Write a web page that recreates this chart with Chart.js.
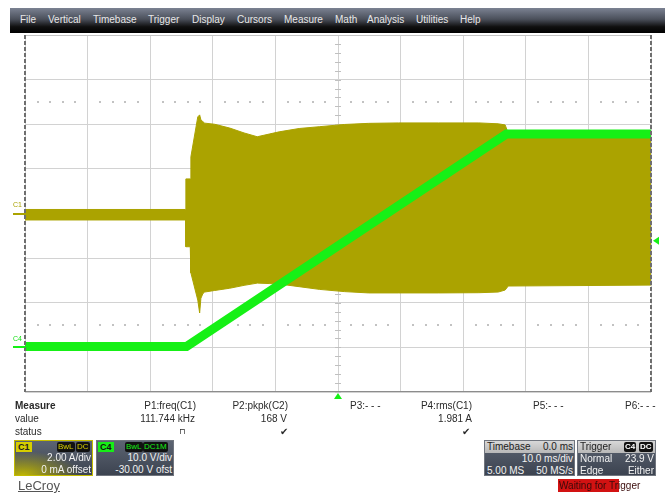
<!DOCTYPE html>
<html>
<head>
<meta charset="utf-8">
<title>LeCroy capture</title>
<script src="https://cdn.jsdelivr.net/npm/chart.js@4/dist/chart.umd.min.js"></script>
<style>
  html, body { margin: 0; padding: 0; background: #fff; }
  body { width: 665px; height: 494px; position: relative; overflow: hidden;
         font-family: "Liberation Sans", Arial, sans-serif; }
  #wrap { position: absolute; left: 0; top: 0; width: 665px; height: 494px; }
  .t { position: absolute; font-size: 10px; line-height: 12px; color: #2a2a2a; white-space: nowrap; }
  .menu { position: absolute; left: 10px; top: 8px; width: 655px; height: 25px;
          background: linear-gradient(#7b8292 0%, #4a4f5a 45%, #101010 75%, #000 100%); }
  .menu span { position: absolute; top: 6px; font-size: 10px; line-height: 12px; color: #e8e8e8; }
  .box { position: absolute; top: 440px; height: 36px; box-sizing: border-box; overflow: hidden;
         background: linear-gradient(#5c6472, #3c4350); border: 1px solid #70757e; }
  .box .w { position: absolute; right: 1px; font-size: 10px; line-height: 12px; color: #f2f2f2; white-space: nowrap; }
  .box .l { position: absolute; left: 2px; font-size: 10px; line-height: 12px; color: #f2f2f2; white-space: nowrap; }
  .tag { position: absolute; top: 1px; height: 10px; font-size: 9px; line-height: 10px; padding: 0 2px; font-weight: bold; }
  .badge { position: absolute; top: 1px; height: 10px; font-size: 8px; line-height: 10px; padding: 0 1px; background: #111; border-radius: 2px; }
  .head { position: absolute; left: 0; top: 0; right: 0; height: 12px; background: linear-gradient(#d8d8d8, #b8b8b8); }
  .head span { position: absolute; top: 0; font-size: 10px; line-height: 12px; color: #222; }
</style>
</head>
<body>
<div id="wrap"><canvas id="scope" width="665" height="494"></canvas></div>

<div class="menu">
  <span style="left:10px">File</span>
  <span style="left:38px">Vertical</span>
  <span style="left:83px">Timebase</span>
  <span style="left:138px">Trigger</span>
  <span style="left:182px">Display</span>
  <span style="left:227px">Cursors</span>
  <span style="left:274px">Measure</span>
  <span style="left:325px">Math</span>
  <span style="left:357px">Analysis</span>
  <span style="left:406px">Utilities</span>
  <span style="left:450px">Help</span>
</div>

<!-- channel ground labels beside the graticule -->
<div class="t" style="left:13px;top:201px;font-size:7px;line-height:8px;color:#aaa200">C1</div>
<div class="t" style="left:13px;top:335px;font-size:7px;line-height:8px;color:#14e014">C4</div>

<!-- measurement table -->
<div class="t" style="left:15px;top:400px;font-weight:bold">Measure</div>
<div class="t" style="left:15px;top:413px">value</div>
<div class="t" style="left:15px;top:426px">status</div>

<div class="t" style="right:469px;top:400px">P1:freq(C1)</div>
<div class="t" style="right:470px;top:413px">111.744 kHz</div>
<div class="t" style="left:179px;top:426px;font-family:'DejaVu Sans';font-size:8px">&#x2293;</div>

<div class="t" style="right:377px;top:400px">P2:pkpk(C2)</div>
<div class="t" style="right:378px;top:413px">168 V</div>
<div class="t" style="left:280px;top:426px;font-family:'DejaVu Sans';font-size:10px">&#x2714;</div>

<div class="t" style="left:350px;top:400px">P3:- - -</div>

<div class="t" style="right:193px;top:400px">P4:rms(C1)</div>
<div class="t" style="right:193px;top:413px">1.981 A</div>
<div class="t" style="left:462px;top:426px;font-family:'DejaVu Sans';font-size:10px">&#x2714;</div>

<div class="t" style="left:533px;top:400px">P5:- - -</div>
<div class="t" style="left:625px;top:400px">P6:- - -</div>

<!-- channel descriptor boxes -->
<div class="box" style="left:14px;width:79px;border-color:#c4bc00;
     background: radial-gradient(ellipse 75% 70% at 10% 100%, rgba(196,186,0,0.95), rgba(196,186,0,0) 100%), linear-gradient(#5c6472, #3c4350);">
  <div class="tag" style="left:1px;background:#d6ce00;color:#222">C1</div>
  <div class="badge" style="left:42px;color:#d6ce00">BwL</div>
  <div class="badge" style="left:61px;color:#d6ce00">DC</div>
  <div class="w" style="top:11px">2.00 A/div</div>
  <div class="w" style="top:23px">0 mA offset</div>
</div>
<div class="box" style="left:96px;width:78px;">
  <div class="tag" style="left:1px;background:#16ee16;color:#111">C4</div>
  <div class="badge" style="left:28px;color:#16ee16">BwL</div>
  <div class="badge" style="left:46px;color:#16ee16">DC1M</div>
  <div class="w" style="top:11px">10.0 V/div</div>
  <div class="w" style="top:23px">-30.00 V ofst</div>
</div>

<div class="box" style="left:484px;width:91px;">
  <div class="head"><span style="left:2px">Timebase</span><span style="right:1px" id="tbDelay">0.0 ms</span></div>
  <div class="w" style="top:12px">10.0 ms/div</div>
  <div class="l" style="top:24px">5.00 MS</div>
  <div class="w" style="top:24px">50 MS/s</div>
</div>
<div class="box" style="left:577px;width:79px;">
  <div class="head"><span style="left:2px">Trigger</span></div>
  <div class="badge" style="left:46px;color:#fff;font-weight:bold">C4</div>
  <div class="badge" style="left:61px;color:#fff;font-weight:bold">DC</div>
  <div class="l" style="top:12px">Normal</div>
  <div class="w" style="top:12px" id="trigText"></div>
  <div class="l" style="top:24px">Edge</div>
  <div class="w" style="top:24px">Either</div>
</div>

<div style="position:absolute;left:558px;top:479px;width:61px;height:13px;background:#d21212"></div>
<div class="t" style="left:559px;top:480px;color:#3a0a0a">Waiting for Trigger</div>

<div class="t" style="left:18px;top:478px;font-size:13px;line-height:15px;color:#555;text-decoration:underline">LeCroy</div>

<script>
// Acquisition: 10 ms/div, 10 divisions, trigger at centre.
// C1 current (A): envelope of the ~112 kHz switching waveform.
const envTimeMs = [-50, -24.35, -24.3, -23.6, -23.5, -22.4, -22.1, -21.9, -21.6, -21.3,
                   -19.7, -17.3, -15.0, -12.9, -11.0, -9.4, -6.2, -3.0, 1.0, 4.9,
                   9.7, 16.1, 22.5, 25.6, 26.7, 27.2, 50];
const c1MaxAmps  = [0.18, 0.18, 1.55, 1.55, 2.54, 4.33, 4.42, 4.20, 4.12, 4.05,
                    4.00, 3.83, 3.61, 3.44, 3.56, 3.66, 3.81, 3.89, 3.99, 4.04,
                    4.06, 4.06, 4.06, 4.02, 3.97, 3.60, 3.56];
const c1MinAmps  = [-0.29, -0.29, -1.49, -1.49, -2.66, -3.88, -4.46, -3.80, -3.60, -3.52,
                    -3.45, -3.35, -3.22, -3.12, -3.14, -3.16, -3.28, -3.40, -3.50, -3.56,
                    -3.56, -3.56, -3.55, -3.52, -3.43, -3.25, -3.21];

// C4 voltage (V): linear ramp from 0 V up to ~48 V.
const c4TimeMs = [-50, -24.2, 26.9, 50];
const c4Volts  = [0.2, 0.2, 47.8, 47.8];

// Channel settings
const c1AmpsPerDiv = 2.00, c1Offset = 0;
const c4VoltsPerDiv = 10.0, c4Offset = -30.0;
const msPerDiv = 10.0;
const triggerLevel = 23.9;   // volts, on C4
const triggerDelay = 0.0;    // ms

document.getElementById('trigText').textContent = triggerLevel.toFixed(1) + ' V';

const C1_COLOR = '#aba300';
const C4_COLOR = '#16f016';

const toPoints = (xs, ys) => xs.map((x, i) => ({ x, y: ys[i] }));

// Graticule details, channel ground markers and trigger markers.
const scopeGraticule = {
  id: 'scopeGraticule',
  beforeDatasetsDraw(chart) {
    const { ctx, chartArea: a, scales } = chart;
    const xs = scales.x, ys = scales.y;
    ctx.save();
    // dotted guide lines at +/-2.5 div
    ctx.fillStyle = '#c2c2c2';
    for (const d of [2.5, -2.5]) {
      const py = Math.round(ys.getPixelForValue(d));
      for (let v = -50 + msPerDiv / 5; v < 50; v += msPerDiv / 5) {
        if (Math.abs(v % msPerDiv) < 1e-6 || Math.abs(Math.abs(v % msPerDiv) - msPerDiv) < 1e-6) continue;
        const px = Math.round(xs.getPixelForValue(v));
        ctx.fillRect(px - 1, py - 1, 2, 2);
      }
    }
    // minor ticks on centre cross
    ctx.strokeStyle = '#c0c0c0';
    ctx.lineWidth = 1;
    const cx = xs.getPixelForValue(triggerDelay), cy = ys.getPixelForValue(0);
    ctx.beginPath();
    for (let d = -4; d <= 4.001; d += 0.2) {
      const py = Math.round(ys.getPixelForValue(d)) + 0.5;
      ctx.moveTo(cx - 3, py); ctx.lineTo(cx + 3, py);
    }
    for (let v = -50; v <= 50.001; v += msPerDiv / 5) {
      const px = Math.round(xs.getPixelForValue(v)) + 0.5;
      ctx.moveTo(px, cy - 3); ctx.lineTo(px, cy + 3);
    }
    ctx.stroke();
    ctx.restore();
  },
  afterDatasetsDraw(chart) {
    const { ctx, chartArea: a, scales } = chart;
    ctx.save();
    // frame
    ctx.lineWidth = 1;
    ctx.strokeStyle = '#c4c4c4';
    ctx.beginPath(); ctx.moveTo(a.left, a.top + 0.5); ctx.lineTo(a.right, a.top + 0.5); ctx.stroke();
    ctx.strokeStyle = '#8c8c8c';
    ctx.beginPath(); ctx.moveTo(a.left, a.bottom - 0.5); ctx.lineTo(a.right, a.bottom - 0.5); ctx.stroke();
    ctx.strokeStyle = '#6e6e6e';
    ctx.lineWidth = 2;
    ctx.setLineDash([4, 2]);
    ctx.beginPath();
    ctx.moveTo(a.left, a.top); ctx.lineTo(a.left, a.bottom);
    ctx.moveTo(a.right, a.top); ctx.lineTo(a.right, a.bottom);
    ctx.stroke();
    ctx.setLineDash([]);

    // channel ground markers
    const g1 = Math.round(scales.yA.getPixelForValue(0));
    const g4 = Math.round(scales.yV.getPixelForValue(0));
    ctx.lineWidth = 2;
    ctx.strokeStyle = C1_COLOR;
    ctx.beginPath(); ctx.moveTo(a.left - 12, g1); ctx.lineTo(a.left, g1); ctx.stroke();
    ctx.strokeStyle = C4_COLOR;
    ctx.beginPath(); ctx.moveTo(a.left - 12, g4); ctx.lineTo(a.left, g4); ctx.stroke();

    // trigger position (bottom) and level (right) markers
    ctx.fillStyle = C4_COLOR;
    const tx = scales.x.getPixelForValue(triggerDelay);
    ctx.beginPath();
    ctx.moveTo(tx, a.bottom + 1); ctx.lineTo(tx + 4, a.bottom + 7); ctx.lineTo(tx - 4, a.bottom + 7);
    ctx.closePath(); ctx.fill();
    const ty = scales.yV.getPixelForValue(triggerLevel);
    ctx.beginPath();
    ctx.moveTo(a.right + 2, ty); ctx.lineTo(a.right + 8, ty - 4); ctx.lineTo(a.right + 8, ty + 4);
    ctx.closePath(); ctx.fill();
    ctx.restore();
  }
};

const gridStyle = { color: '#d2d2d2', lineWidth: 1, drawTicks: false };

new Chart(document.getElementById('scope'), {
  type: 'line',
  data: {
    datasets: [
      { label: 'C4', data: toPoints(c4TimeMs, c4Volts), yAxisID: 'yV',
        borderColor: C4_COLOR, borderWidth: 9, pointRadius: 0, fill: false, order: 0 },
      { label: 'C1 max', data: toPoints(envTimeMs, c1MaxAmps), yAxisID: 'yA',
        borderColor: C1_COLOR, backgroundColor: C1_COLOR, borderWidth: 1, pointRadius: 0, fill: '+1', order: 1 },
      { label: 'C1 min', data: toPoints(envTimeMs, c1MinAmps), yAxisID: 'yA',
        borderColor: C1_COLOR, backgroundColor: C1_COLOR, borderWidth: 1, pointRadius: 0, fill: false, order: 2 }
    ]
  },
  options: {
    responsive: false,
    devicePixelRatio: 1,
    animation: false,
    events: [],
    layout: { padding: { left: 25, top: 35, right: 14, bottom: 102 } },
    plugins: { legend: { display: false }, tooltip: { enabled: false } },
    scales: {
      x: { type: 'linear', min: -5 * msPerDiv, max: 5 * msPerDiv,
           ticks: { display: false, stepSize: msPerDiv }, grid: gridStyle, border: { display: false } },
      y: { type: 'linear', min: -4, max: 4,
           ticks: { display: false, stepSize: 1 }, grid: gridStyle, border: { display: false } },
      yA: { type: 'linear', display: false,
            min: -4 * c1AmpsPerDiv - c1Offset, max: 4 * c1AmpsPerDiv - c1Offset },
      yV: { type: 'linear', display: false,
            min: -4 * c4VoltsPerDiv - c4Offset, max: 4 * c4VoltsPerDiv - c4Offset }
    }
  },
  plugins: [scopeGraticule]
});
</script>
</body>
</html>
